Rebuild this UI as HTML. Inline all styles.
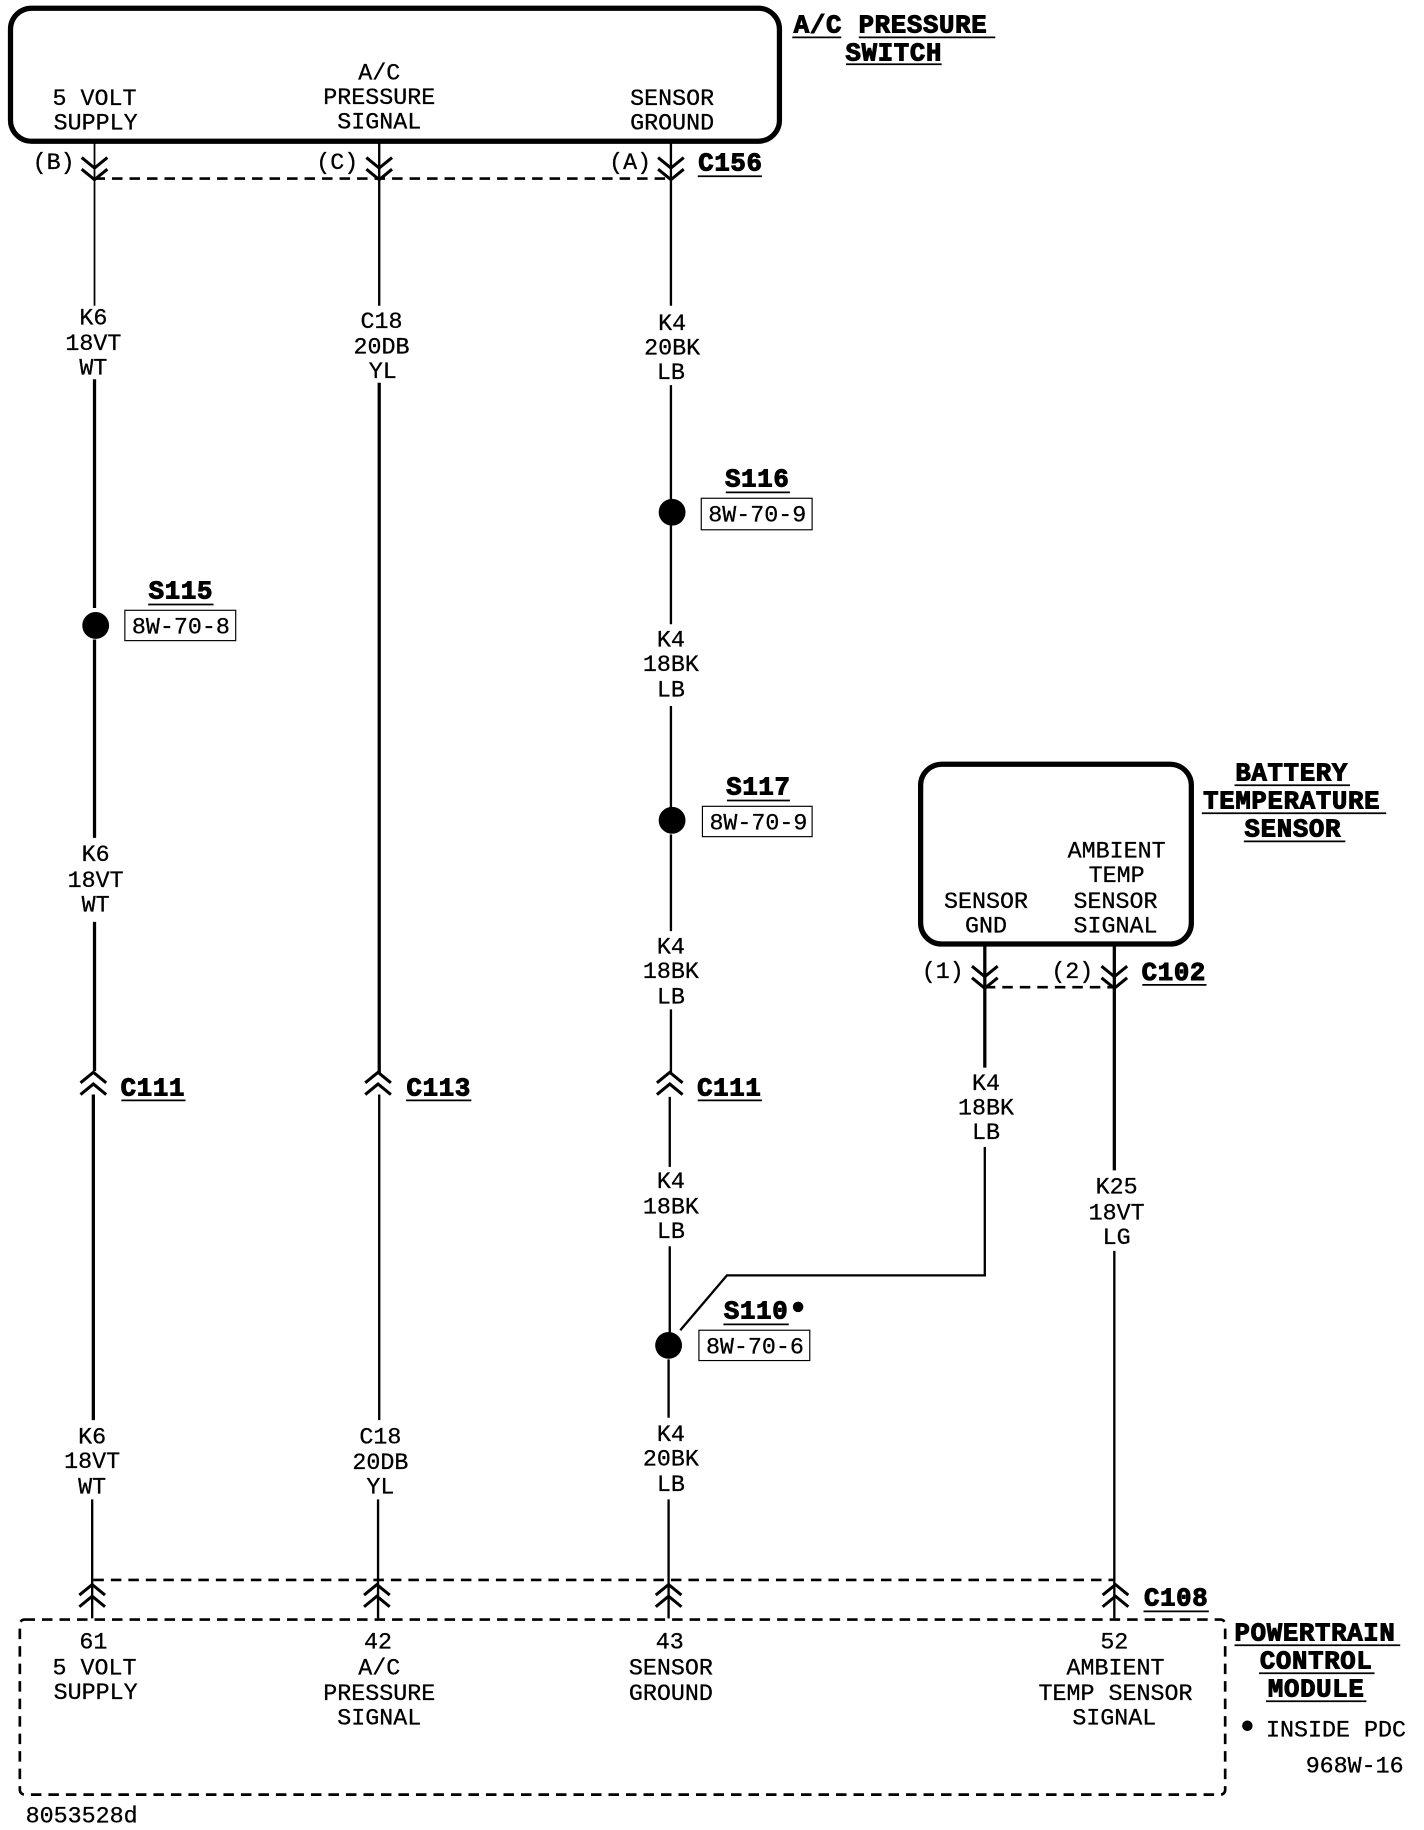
<!DOCTYPE html>
<html><head><meta charset="utf-8"><style>
html,body{margin:0;padding:0;background:#fff}
svg{display:block}
text{font-family:"Liberation Mono",monospace;font-size:20px;fill:#000;text-anchor:middle;stroke:#000;stroke-width:.25}
.b{font-family:"Liberation Mono",monospace;font-weight:bold;font-size:22px;stroke-width:.9;letter-spacing:.6px}
.w{stroke:#000;stroke-width:2;fill:none}
.n{stroke:#000;stroke-width:1.5;fill:none}
.t{stroke:#000;stroke-width:2.8;fill:none}
.d{stroke:#000;stroke-width:2.3;fill:none;stroke-dasharray:9 6}
.u{stroke:#000;stroke-width:1.5}
.x{stroke:#000;stroke-width:1;fill:#fff}
</style></head><body>
<svg width="1424" height="1830" viewBox="0 0 1220.4 1568.3" xmlns="http://www.w3.org/2000/svg">
<defs>
<path id="dn" d="M-11 -8L0 1L11 -8M-11 2L0 11L11 2" fill="none" stroke="#000" stroke-width="2.6"/>
<path id="up" d="M-11 8L0 -1L11 8M-11 -2L0 -11L11 -2" fill="none" stroke="#000" stroke-width="2.6"/>
</defs>
<rect x="9" y="7" width="659" height="114" rx="18" fill="none" stroke="#000" stroke-width="4.5"/>
<rect x="789" y="655" width="232" height="154" rx="18" fill="none" stroke="#000" stroke-width="4.5"/>
<rect x="17" y="1388" width="1033" height="150" rx="4" class="d"/>
<path class="d" d="M81 153H575M844 846H955M80 1354H955"/>

<path class="n" d="M81 122V262"/>
<path class="t" d="M81 325V521M81 548V718M81 790V918M80 938V1217"/>
<path class="w" d="M79 1285V1387"/>
<path class="w" d="M325 122V262M325 938V1217M324 1285V1387"/>
<path class="t" d="M325 328V920"/>
<path class="w" d="M575 122V262M575 330V430M575 448V535M575 605V693M575 715V798M575 865V920M574 940V1000M574 1068V1143M573 1165V1215M573 1285V1387"/>
<path class="t" d="M844 810V915M955 810V1003"/>
<path class="w" d="M844 983V1093H623L583 1140M955 1072V1387"/>

<use href="#dn" x="81" y="143"/><use href="#dn" x="325" y="143"/><use href="#dn" x="575" y="143"/>
<use href="#dn" x="844" y="836"/><use href="#dn" x="955" y="836"/>
<use href="#up" x="80" y="930"/><use href="#up" x="324" y="930"/><use href="#up" x="574" y="930"/>
<use href="#up" x="79" y="1369"/><use href="#up" x="323" y="1369"/><use href="#up" x="573" y="1369"/><use href="#up" x="956" y="1369"/>

<circle cx="82" cy="536" r="11.5"/><circle cx="576" cy="439" r="11.5"/><circle cx="576" cy="703" r="11.5"/><circle cx="573" cy="1153" r="11.5"/>
<circle cx="684" cy="1120" r="4.5"/><circle cx="1069" cy="1479" r="4.5"/>

<rect class="x" x="107" y="523" width="95" height="26"/>
<rect class="x" x="601" y="427" width="95" height="27"/>
<rect class="x" x="602" y="691" width="94" height="26"/>
<rect class="x" x="599" y="1140" width="95" height="26"/>
<text x="155" y="543">8W-70-8</text>
<text x="649" y="447">8W-70-9</text>
<text x="650" y="711">8W-70-9</text>
<text x="647" y="1160">8W-70-6</text>

<text x="81" y="90">5 VOLT</text><text x="82" y="111">SUPPLY</text>
<text x="325" y="68">A/C</text><text x="325" y="89">PRESSURE</text><text x="325" y="110">SIGNAL</text>
<text x="576" y="90">SENSOR</text><text x="576" y="111">GROUND</text>
<text x="46" y="145">(B)</text><text x="289" y="145">(C)</text><text x="540" y="145">(A)</text>

<text x="80" y="278">K6</text><text x="80" y="300">18VT</text><text x="80" y="321">WT</text>
<text x="82" y="738">K6</text><text x="82" y="760">18VT</text><text x="82" y="781">WT</text>
<text x="79" y="1237">K6</text><text x="79" y="1258">18VT</text><text x="79" y="1280">WT</text>
<text x="327" y="281">C18</text><text x="327" y="303">20DB</text><text x="328" y="324">YL</text>
<text x="326" y="1237">C18</text><text x="326" y="1259">20DB</text><text x="326" y="1280">YL</text>
<text x="576" y="283">K4</text><text x="576" y="304">20BK</text><text x="575" y="325">LB</text>
<text x="575" y="554">K4</text><text x="575" y="575">18BK</text><text x="575" y="597">LB</text>
<text x="575" y="817">K4</text><text x="575" y="838">18BK</text><text x="575" y="860">LB</text>
<text x="575" y="1018">K4</text><text x="575" y="1040">18BK</text><text x="575" y="1061">LB</text>
<text x="575" y="1235">K4</text><text x="575" y="1256">20BK</text><text x="575" y="1278">LB</text>
<text x="845" y="934">K4</text><text x="845" y="955">18BK</text><text x="845" y="976">LB</text>
<text x="957" y="1023">K25</text><text x="957" y="1045">18VT</text><text x="957" y="1066">LG</text>

<text x="957" y="735">AMBIENT</text><text x="957" y="756">TEMP</text><text x="956" y="778">SENSOR</text><text x="956" y="799">SIGNAL</text>
<text x="845" y="778">SENSOR</text><text x="845" y="799">GND</text>
<text x="808" y="838">(1)</text><text x="919" y="838">(2)</text>

<text x="80" y="1413">61</text><text x="81" y="1435">5 VOLT</text><text x="82" y="1456">SUPPLY</text>
<text x="324" y="1413">42</text><text x="325" y="1435">A/C</text><text x="325" y="1457">PRESSURE</text><text x="325" y="1478">SIGNAL</text>
<text x="574" y="1413">43</text><text x="575" y="1435">SENSOR</text><text x="575" y="1457">GROUND</text>
<text x="955" y="1413">52</text><text x="956" y="1435">AMBIENT</text><text x="956" y="1457">TEMP SENSOR</text><text x="955" y="1478">SIGNAL</text>
<text x="1145" y="1488">INSIDE PDC</text><text x="1161" y="1519">968W-16</text>
<text x="70" y="1562">8053528d</text>

<text class="b" x="701" y="28">A/C</text><text class="b" x="791" y="28">PRESSURE</text><text class="b" x="766" y="52">SWITCH</text>
<line class="u" x1="679" y1="32" x2="721" y2="32"/><line class="u" x1="736" y1="32" x2="853" y2="32"/><line class="u" x1="725" y1="55" x2="807" y2="55"/>
<text class="b" x="626" y="146">C156</text><line class="u" x1="598" y1="151" x2="653" y2="151"/>
<text class="b" x="1006" y="840">C102</text><line class="u" x1="979" y1="844" x2="1034" y2="844"/>
<text class="b" x="131" y="939">C111</text><line class="u" x1="104" y1="943" x2="159" y2="943"/>
<text class="b" x="376" y="939">C113</text><line class="u" x1="348" y1="943" x2="404" y2="943"/>
<text class="b" x="625" y="939">C111</text><line class="u" x1="598" y1="943" x2="653" y2="943"/>
<text class="b" x="1008" y="1376">C108</text><line class="u" x1="980" y1="1381" x2="1036" y2="1381"/>
<text class="b" x="155" y="513">S115</text><line class="u" x1="127" y1="518" x2="183" y2="518"/>
<text class="b" x="649" y="417">S116</text><line class="u" x1="622" y1="422" x2="677" y2="422"/>
<text class="b" x="650" y="681">S117</text><line class="u" x1="623" y1="686" x2="677" y2="686"/>
<text class="b" x="648" y="1130">S110</text><line class="u" x1="620" y1="1135" x2="676" y2="1135"/>
<text class="b" x="1107" y="669">BATTERY</text><line class="u" x1="1058" y1="673" x2="1157" y2="673"/>
<text class="b" x="1107" y="693">TEMPERATURE</text><line class="u" x1="1030" y1="697" x2="1188" y2="697"/>
<text class="b" x="1108" y="717">SENSOR</text><line class="u" x1="1066" y1="721" x2="1153" y2="721"/>
<text class="b" x="1127" y="1406">POWERTRAIN</text><line class="u" x1="1058" y1="1410" x2="1200" y2="1410"/>
<text class="b" x="1128" y="1430">CONTROL</text><line class="u" x1="1079" y1="1434" x2="1178" y2="1434"/>
<text class="b" x="1128" y="1454">MODULE</text><line class="u" x1="1085" y1="1458" x2="1171" y2="1458"/>
</svg>
</body></html>
